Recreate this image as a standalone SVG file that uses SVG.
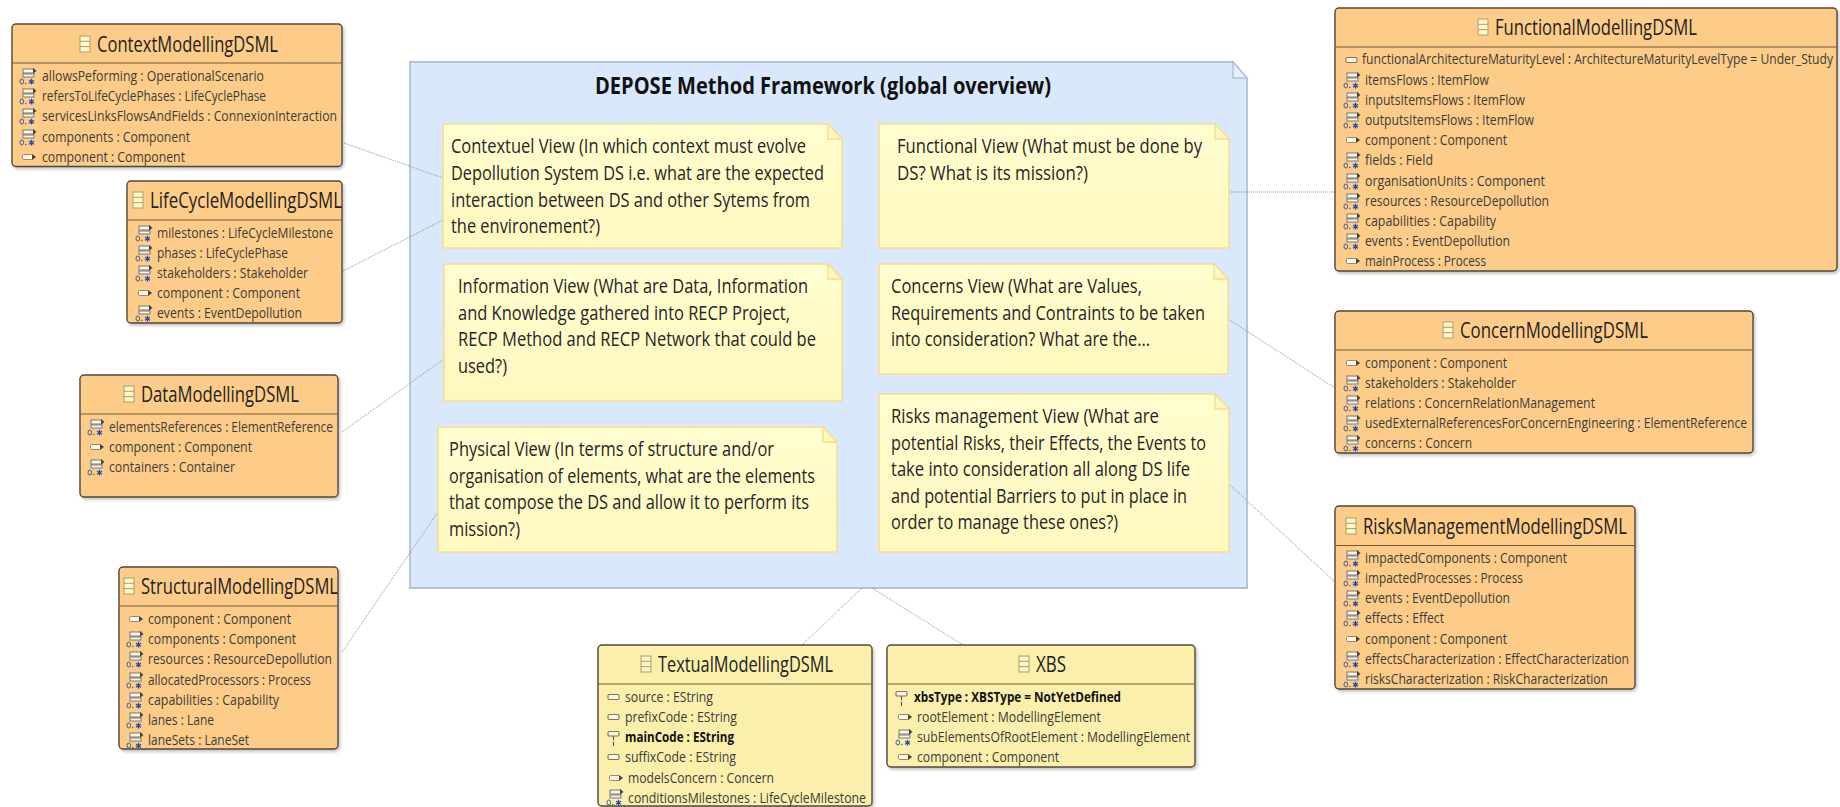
<svg xmlns="http://www.w3.org/2000/svg" width="1840" height="807" viewBox="0 0 1840 807">
<style>
text{font-family:"Open Sans","Noto Sans","Liberation Sans",sans-serif;}
.box{stroke:#51483b;stroke-width:1.4;}
.or{fill:#FDCC88;}
.ye{fill:#FAF0AC;}
.div{stroke:#6f5a3e;stroke-width:1.1;fill:none;}
.t{font-size:21.5px;fill:#222;}
.r{font-size:14px;fill:#3c3c3c;}
.b{font-weight:700;fill:#111;}
.n{font-size:19.6px;fill:#262626;}
.note{fill:url(#noteGrad);stroke:#F7DC94;stroke-width:1.6;}
.fold{fill:#FFF8BC;stroke:#F7DC94;stroke-width:1.4;}
.c{fill:none;stroke:#949498;stroke-width:1;stroke-dasharray:1 1;}
</style>
<defs>
<linearGradient id="noteGrad" x1="0" y1="0" x2="0" y2="1"><stop offset="0" stop-color="#FFFECF"/><stop offset="1" stop-color="#FFF8BE"/></linearGradient>
<filter id="sh" x="-5%" y="-5%" width="110%" height="115%"><feDropShadow dx="1.5" dy="2" stdDeviation="1.5" flood-color="#666" flood-opacity="0.4"/></filter>
<g id="cls"><rect x="0" y="0" width="10" height="16" fill="#FFF6C8" stroke="#A8A070" stroke-width="1"/><path d="M0 5.3H10M0 10.6H10" stroke="#A8A070" stroke-width="1"/></g>
<g id="many"><rect x="4" y="-7" width="11" height="4" fill="#FFF6D8" stroke="#70788a" stroke-width="1"/><rect x="4" y="-2" width="11" height="3" fill="#FFF6D8" stroke="#70788a" stroke-width="1"/><path d="M14 -8L17.500 -5L14 -2.500Z" fill="#444"/><ellipse cx="2.800" cy="5.500" rx="1.800" ry="2.500" fill="none" stroke="#3d5a88" stroke-width="1"/><circle cx="6.800" cy="7.500" r="0.700" fill="#3d5a88"/><path d="M12.500 2.800V8.600M10 4.200L15 7.200M15 4.200L10 7.200" stroke="#1d47b0" stroke-width="1.300"/></g>
<g id="one"><rect x="3.500" y="-2.500" width="10" height="5" rx="1" fill="#FFF6D8" stroke="#8a8a80" stroke-width="1"/><path d="M13 -3L17 0L13 3Z" fill="#444"/></g>
<g id="attr"><rect x="3" y="-2.500" width="11" height="5" rx="1.200" fill="#FFF6D8" stroke="#77776a" stroke-width="1.100"/></g>
<g id="req"><rect x="3" y="-5.500" width="11" height="4.500" rx="1" fill="#FFF6D8" stroke="#77776a" stroke-width="1.100"/><path d="M8.500 -1V3M8.500 4.500V9" stroke="#556" stroke-width="1.100"/></g>
</defs>
<rect width="1840" height="807" fill="#fff"/>

<g id="frame">
<path d="M410 62H1233L1247 78V588H410Z" fill="#DAE8FC" stroke="#B4BFD8" stroke-width="1.800"/>
<path d="M1233 62V78H1247Z" fill="#E4EEFD" stroke="#B4BFD8" stroke-width="1.400"/>
<text x="595" y="94" font-size="23" font-weight="700" fill="#111" textLength="456" lengthAdjust="spacingAndGlyphs">DEPOSE Method Framework (global overview)</text>
</g>

<g id="connectors">
<path class="c" d="M344 143L443 178"/>
<path class="c" d="M343 271L443 220"/>
<path class="c" d="M342 432L444 359"/>
<path class="c" d="M342 652L438 512"/>
<path class="c" d="M1229 192H1335"/>
<path class="c" d="M1228 319L1335 388"/>
<path class="c" d="M1229 484L1335 582"/>
<path class="c" d="M862 588L802 645"/>
<path class="c" d="M872 588L963 645"/>
</g>

<g id="note-contextuel">
<path class="note" d="M443 124H828L842 139V248H443Z"/><path class="fold" d="M828 124V139H842Z"/>
<text class="n" x="451" y="153" textLength="355" lengthAdjust="spacingAndGlyphs">Contextuel View (In which context must evolve</text>
<text class="n" x="451" y="180" textLength="373" lengthAdjust="spacingAndGlyphs">Depollution System DS i.e. what are the expected</text>
<text class="n" x="451" y="206.500" textLength="359" lengthAdjust="spacingAndGlyphs">interaction between DS and other Sytems from</text>
<text class="n" x="451" y="233" textLength="149" lengthAdjust="spacingAndGlyphs">the environement?)</text>
</g>
<g id="note-information">
<path class="note" d="M444 264H828L842 279V401H444Z"/><path class="fold" d="M828 264V279H842Z"/>
<text class="n" x="458" y="293" textLength="350" lengthAdjust="spacingAndGlyphs">Information View (What are Data, Information</text>
<text class="n" x="458" y="319.500" textLength="332" lengthAdjust="spacingAndGlyphs">and Knowledge gathered into RECP Project,</text>
<text class="n" x="458" y="346" textLength="358" lengthAdjust="spacingAndGlyphs">RECP Method and RECP Network that could be</text>
<text class="n" x="458" y="372.500" textLength="49" lengthAdjust="spacingAndGlyphs">used?)</text>
</g>
<g id="note-physical">
<path class="note" d="M438 427H823L837 442V552H438Z"/><path class="fold" d="M823 427V442H837Z"/>
<text class="n" x="449" y="456" textLength="325" lengthAdjust="spacingAndGlyphs">Physical View (In terms of structure and/or</text>
<text class="n" x="449" y="482.500" textLength="366" lengthAdjust="spacingAndGlyphs">organisation of elements, what are the elements</text>
<text class="n" x="449" y="509" textLength="360" lengthAdjust="spacingAndGlyphs">that compose the DS and allow it to perform its</text>
<text class="n" x="449" y="535.500" textLength="71" lengthAdjust="spacingAndGlyphs">mission?)</text>
</g>
<g id="note-functional">
<path class="note" d="M879 124H1215L1229 139V248H879Z"/><path class="fold" d="M1215 124V139H1229Z"/>
<text class="n" x="897" y="153" textLength="305" lengthAdjust="spacingAndGlyphs">Functional View (What must be done by</text>
<text class="n" x="897" y="180" textLength="191" lengthAdjust="spacingAndGlyphs">DS? What is its mission?)</text>
</g>
<g id="note-concerns">
<path class="note" d="M879 264H1214L1228 279V374H879Z"/><path class="fold" d="M1214 264V279H1228Z"/>
<text class="n" x="891" y="293" textLength="251" lengthAdjust="spacingAndGlyphs">Concerns View (What are Values,</text>
<text class="n" x="891" y="319.500" textLength="314" lengthAdjust="spacingAndGlyphs">Requirements and Contraints to be taken</text>
<text class="n" x="891" y="346" textLength="259" lengthAdjust="spacingAndGlyphs">into consideration? What are the...</text>
</g>
<g id="note-risks">
<path class="note" d="M879 394H1215L1229 409V552H879Z"/><path class="fold" d="M1215 394V409H1229Z"/>
<text class="n" x="891" y="423" textLength="268" lengthAdjust="spacingAndGlyphs">Risks management View (What are</text>
<text class="n" x="891" y="449.500" textLength="315" lengthAdjust="spacingAndGlyphs">potential Risks, their Effects, the Events to</text>
<text class="n" x="891" y="476" textLength="299" lengthAdjust="spacingAndGlyphs">take into consideration all along DS life</text>
<text class="n" x="891" y="502.500" textLength="296" lengthAdjust="spacingAndGlyphs">and potential Barriers to put in place in</text>
<text class="n" x="891" y="529" textLength="227" lengthAdjust="spacingAndGlyphs">order to manage these ones?)</text>
</g>

<g id="ContextModellingDSML">
<rect class="box or" x="12" y="24" width="330" height="142.500" rx="4" filter="url(#sh)"/>
<path class="div" d="M12 63H342"/>
<use href="#cls" x="80" y="36"/>
<text class="t" x="97" y="52" textLength="181" lengthAdjust="spacingAndGlyphs">ContextModellingDSML</text>
<use href="#many" x="19" y="76"/><text class="r" x="42" y="81" textLength="222" lengthAdjust="spacingAndGlyphs">allowsPeforming : OperationalScenario</text>
<use href="#many" x="19" y="96"/><text class="r" x="42" y="101" textLength="224" lengthAdjust="spacingAndGlyphs">refersToLifeCyclePhases : LifeCyclePhase</text>
<use href="#many" x="19" y="116"/><text class="r" x="42" y="121" textLength="295" lengthAdjust="spacingAndGlyphs">servicesLinksFlowsAndFields : ConnexionInteraction</text>
<use href="#many" x="19" y="137"/><text class="r" x="42" y="142" textLength="148" lengthAdjust="spacingAndGlyphs">components : Component</text>
<use href="#one" x="19" y="157"/><text class="r" x="42" y="162" textLength="143" lengthAdjust="spacingAndGlyphs">component : Component</text>
</g>

<g id="LifeCycleModellingDSML">
<rect class="box or" x="127" y="181" width="215" height="142" rx="4" filter="url(#sh)"/>
<path class="div" d="M127 220H342"/>
<use href="#cls" x="133" y="192"/>
<text class="t" x="150" y="208" textLength="192" lengthAdjust="spacingAndGlyphs">LifeCycleModellingDSML</text>
<use href="#many" x="135" y="233"/><text class="r" x="157" y="238" textLength="176" lengthAdjust="spacingAndGlyphs">milestones : LifeCycleMilestone</text>
<use href="#many" x="135" y="253"/><text class="r" x="157" y="258" textLength="131" lengthAdjust="spacingAndGlyphs">phases : LifeCyclePhase</text>
<use href="#many" x="135" y="273"/><text class="r" x="157" y="278" textLength="151" lengthAdjust="spacingAndGlyphs">stakeholders : Stakeholder</text>
<use href="#one" x="135" y="293"/><text class="r" x="157" y="298" textLength="143" lengthAdjust="spacingAndGlyphs">component : Component</text>
<use href="#many" x="135" y="313"/><text class="r" x="157" y="318" textLength="145" lengthAdjust="spacingAndGlyphs">events : EventDepollution</text>
</g>

<g id="DataModellingDSML">
<rect class="box or" x="80" y="375" width="258" height="122" rx="4" filter="url(#sh)"/>
<path class="div" d="M80 414H338"/>
<use href="#cls" x="124" y="386"/>
<text class="t" x="141" y="402" textLength="158" lengthAdjust="spacingAndGlyphs">DataModellingDSML</text>
<use href="#many" x="87" y="427"/><text class="r" x="109" y="432" textLength="224" lengthAdjust="spacingAndGlyphs">elementsReferences : ElementReference</text>
<use href="#one" x="87" y="447"/><text class="r" x="109" y="452" textLength="143" lengthAdjust="spacingAndGlyphs">component : Component</text>
<use href="#many" x="87" y="467"/><text class="r" x="109" y="472" textLength="126" lengthAdjust="spacingAndGlyphs">containers : Container</text>
</g>

<g id="StructuralModellingDSML">
<rect class="box or" x="119" y="567" width="219" height="182" rx="4" filter="url(#sh)"/>
<path class="div" d="M119 606H338"/>
<use href="#cls" x="124" y="578"/>
<text class="t" x="141" y="594" textLength="197" lengthAdjust="spacingAndGlyphs">StructuralModellingDSML</text>
<use href="#one" x="126" y="619"/><text class="r" x="148" y="624" textLength="143" lengthAdjust="spacingAndGlyphs">component : Component</text>
<use href="#many" x="126" y="639"/><text class="r" x="148" y="644" textLength="148" lengthAdjust="spacingAndGlyphs">components : Component</text>
<use href="#many" x="126" y="659"/><text class="r" x="148" y="664" textLength="184" lengthAdjust="spacingAndGlyphs">resources : ResourceDepollution</text>
<use href="#many" x="126" y="680"/><text class="r" x="148" y="685" textLength="163" lengthAdjust="spacingAndGlyphs">allocatedProcessors : Process</text>
<use href="#many" x="126" y="700"/><text class="r" x="148" y="705" textLength="131" lengthAdjust="spacingAndGlyphs">capabilities : Capability</text>
<use href="#many" x="126" y="720"/><text class="r" x="148" y="725" textLength="66" lengthAdjust="spacingAndGlyphs">lanes : Lane</text>
<use href="#many" x="126" y="740"/><text class="r" x="148" y="745" textLength="101" lengthAdjust="spacingAndGlyphs">laneSets : LaneSet</text>
</g>

<g id="FunctionalModellingDSML">
<rect class="box or" x="1335" y="8" width="502" height="263" rx="4" filter="url(#sh)"/>
<path class="div" d="M1335 47H1837"/>
<use href="#cls" x="1478" y="19"/>
<text class="t" x="1495" y="35" textLength="202" lengthAdjust="spacingAndGlyphs">FunctionalModellingDSML</text>
<use href="#attr" x="1343" y="60"/><text class="r" x="1362" y="64" textLength="471" lengthAdjust="spacingAndGlyphs">functionalArchitectureMaturityLevel : ArchitectureMaturityLevelType = Under_Study</text>
<use href="#many" x="1343" y="80"/><text class="r" x="1365" y="85" textLength="124" lengthAdjust="spacingAndGlyphs">itemsFlows : ItemFlow</text>
<use href="#many" x="1343" y="100"/><text class="r" x="1365" y="105" textLength="160" lengthAdjust="spacingAndGlyphs">inputsItemsFlows : ItemFlow</text>
<use href="#many" x="1343" y="120"/><text class="r" x="1365" y="125" textLength="169" lengthAdjust="spacingAndGlyphs">outputsItemsFlows : ItemFlow</text>
<use href="#one" x="1343" y="140"/><text class="r" x="1365" y="145" textLength="142" lengthAdjust="spacingAndGlyphs">component : Component</text>
<use href="#many" x="1343" y="160"/><text class="r" x="1365" y="165" textLength="68" lengthAdjust="spacingAndGlyphs">fields : Field</text>
<use href="#many" x="1343" y="181"/><text class="r" x="1365" y="186" textLength="180" lengthAdjust="spacingAndGlyphs">organisationUnits : Component</text>
<use href="#many" x="1343" y="201"/><text class="r" x="1365" y="206" textLength="184" lengthAdjust="spacingAndGlyphs">resources : ResourceDepollution</text>
<use href="#many" x="1343" y="221"/><text class="r" x="1365" y="226" textLength="131" lengthAdjust="spacingAndGlyphs">capabilities : Capability</text>
<use href="#many" x="1343" y="241"/><text class="r" x="1365" y="246" textLength="145" lengthAdjust="spacingAndGlyphs">events : EventDepollution</text>
<use href="#one" x="1343" y="261"/><text class="r" x="1365" y="266" textLength="121" lengthAdjust="spacingAndGlyphs">mainProcess : Process</text>
</g>

<g id="ConcernModellingDSML">
<rect class="box or" x="1335" y="311" width="418" height="142" rx="4" filter="url(#sh)"/>
<path class="div" d="M1335 350H1753"/>
<use href="#cls" x="1443" y="322"/>
<text class="t" x="1460" y="338" textLength="188" lengthAdjust="spacingAndGlyphs">ConcernModellingDSML</text>
<use href="#one" x="1343" y="363"/><text class="r" x="1365" y="368" textLength="142" lengthAdjust="spacingAndGlyphs">component : Component</text>
<use href="#many" x="1343" y="383"/><text class="r" x="1365" y="388" textLength="151" lengthAdjust="spacingAndGlyphs">stakeholders : Stakeholder</text>
<use href="#many" x="1343" y="403"/><text class="r" x="1365" y="408" textLength="230" lengthAdjust="spacingAndGlyphs">relations : ConcernRelationManagement</text>
<use href="#many" x="1343" y="423"/><text class="r" x="1365" y="428" textLength="382" lengthAdjust="spacingAndGlyphs">usedExternalReferencesForConcernEngineering : ElementReference</text>
<use href="#many" x="1343" y="443"/><text class="r" x="1365" y="448" textLength="107" lengthAdjust="spacingAndGlyphs">concerns : Concern</text>
</g>

<g id="RisksManagementModellingDSML">
<rect class="box or" x="1335" y="506" width="300" height="183" rx="4" filter="url(#sh)"/>
<path class="div" d="M1335 545.500H1635"/>
<use href="#cls" x="1346" y="518"/>
<text class="t" x="1363" y="534" textLength="264" lengthAdjust="spacingAndGlyphs">RisksManagementModellingDSML</text>
<use href="#many" x="1343" y="558"/><text class="r" x="1365" y="563" textLength="202" lengthAdjust="spacingAndGlyphs">impactedComponents : Component</text>
<use href="#many" x="1343" y="578"/><text class="r" x="1365" y="583" textLength="158" lengthAdjust="spacingAndGlyphs">impactedProcesses : Process</text>
<use href="#many" x="1343" y="598"/><text class="r" x="1365" y="603" textLength="145" lengthAdjust="spacingAndGlyphs">events : EventDepollution</text>
<use href="#many" x="1343" y="618"/><text class="r" x="1365" y="623" textLength="79" lengthAdjust="spacingAndGlyphs">effects : Effect</text>
<use href="#one" x="1343" y="639"/><text class="r" x="1365" y="644" textLength="142" lengthAdjust="spacingAndGlyphs">component : Component</text>
<use href="#many" x="1343" y="659"/><text class="r" x="1365" y="664" textLength="264" lengthAdjust="spacingAndGlyphs">effectsCharacterization : EffectCharacterization</text>
<use href="#many" x="1343" y="679"/><text class="r" x="1365" y="684" textLength="243" lengthAdjust="spacingAndGlyphs">risksCharacterization : RiskCharacterization</text>
</g>

<g id="TextualModellingDSML">
<rect class="box ye" x="598" y="645" width="274" height="161" rx="4" filter="url(#sh)"/>
<path class="div" d="M598 684H872"/>
<use href="#cls" x="641" y="656"/>
<text class="t" x="658" y="672" textLength="175" lengthAdjust="spacingAndGlyphs">TextualModellingDSML</text>
<use href="#attr" x="605" y="697"/><text class="r" x="625" y="702" textLength="88" lengthAdjust="spacingAndGlyphs">source : EString</text>
<use href="#attr" x="605" y="717"/><text class="r" x="625" y="722" textLength="112" lengthAdjust="spacingAndGlyphs">prefixCode : EString</text>
<use href="#req" x="605" y="737"/><text class="r b" x="625" y="742" textLength="109" lengthAdjust="spacingAndGlyphs">mainCode : EString</text>
<use href="#attr" x="605" y="757"/><text class="r" x="625" y="762" textLength="111" lengthAdjust="spacingAndGlyphs">suffixCode : EString</text>
<use href="#one" x="606" y="778"/><text class="r" x="628" y="783" textLength="146" lengthAdjust="spacingAndGlyphs">modelsConcern : Concern</text>
<use href="#many" x="606" y="797"/><text class="r" x="628" y="803" textLength="238" lengthAdjust="spacingAndGlyphs">conditionsMilestones : LifeCycleMilestone</text>
</g>

<g id="XBS">
<rect class="box ye" x="887" y="645" width="308" height="122" rx="4" filter="url(#sh)"/>
<path class="div" d="M887 684H1195"/>
<use href="#cls" x="1019" y="656"/>
<text class="t" x="1036" y="672" textLength="30" lengthAdjust="spacingAndGlyphs">XBS</text>
<use href="#req" x="893" y="697"/><text class="r b" x="914" y="702" textLength="207" lengthAdjust="spacingAndGlyphs">xbsType : XBSType = NotYetDefined</text>
<use href="#one" x="895" y="717"/><text class="r" x="917" y="722" textLength="184" lengthAdjust="spacingAndGlyphs">rootElement : ModellingElement</text>
<use href="#many" x="895" y="737"/><text class="r" x="917" y="742" textLength="273" lengthAdjust="spacingAndGlyphs">subElementsOfRootElement : ModellingElement</text>
<use href="#one" x="895" y="757"/><text class="r" x="917" y="762" textLength="142" lengthAdjust="spacingAndGlyphs">component : Component</text>
</g>
</svg>
